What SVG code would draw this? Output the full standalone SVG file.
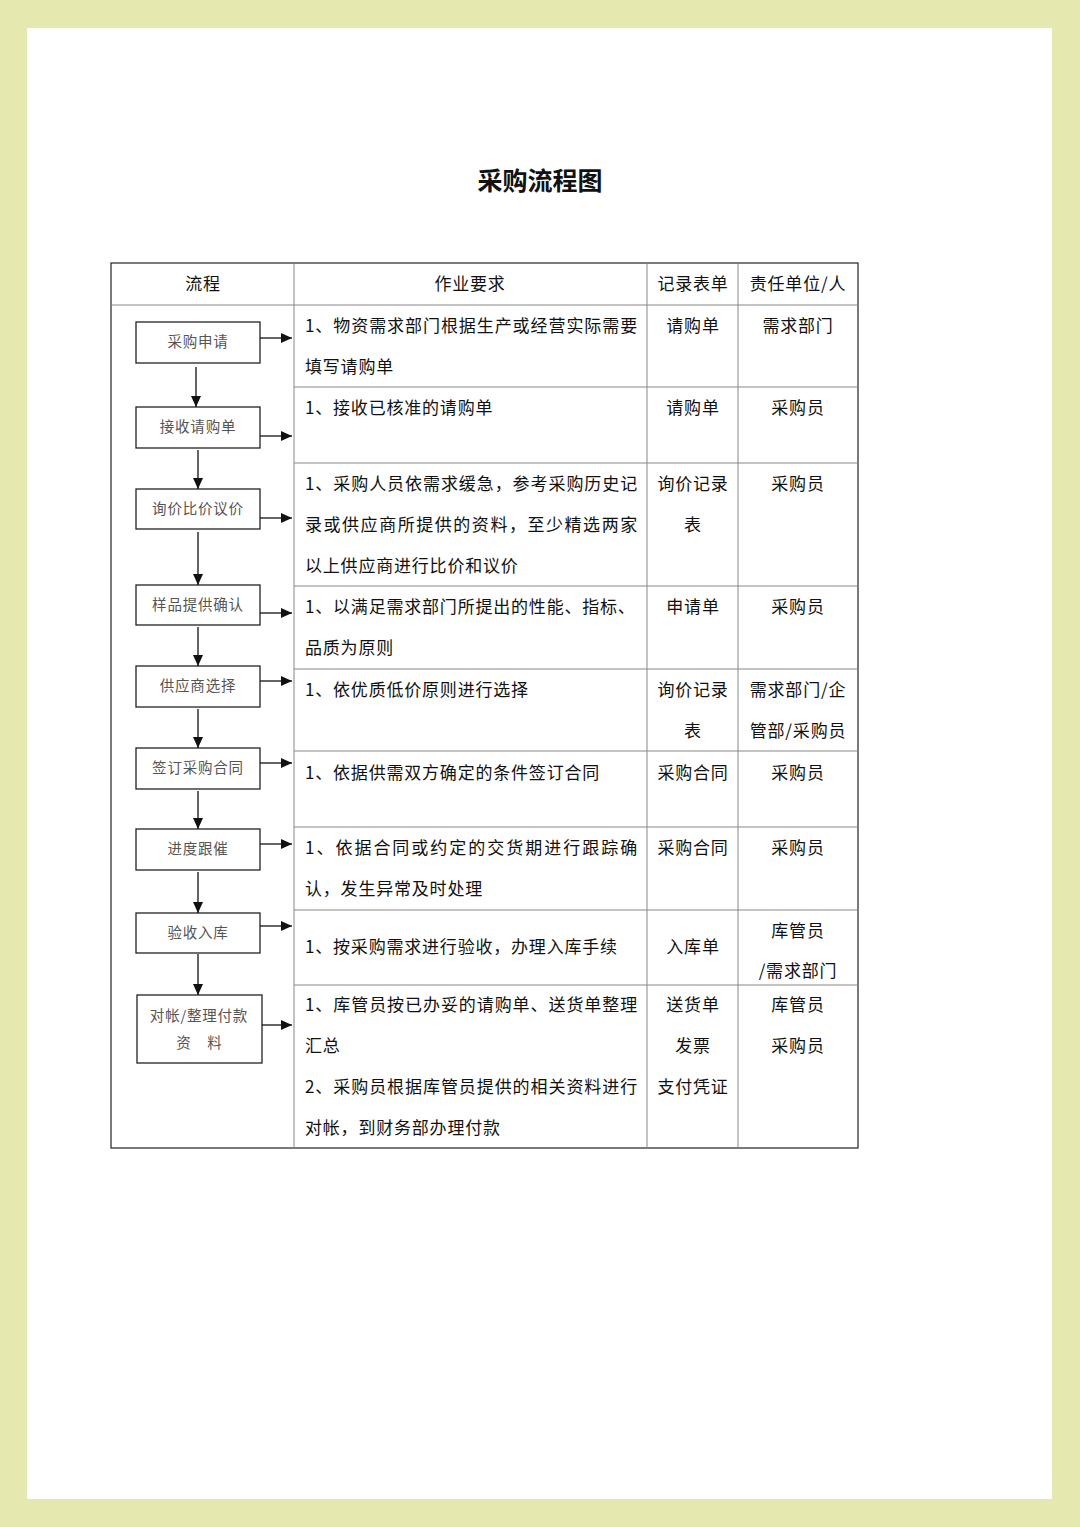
<svg xmlns="http://www.w3.org/2000/svg" width="1080" height="1527" viewBox="0 0 1080 1527">
<defs>
<marker id="ah" markerUnits="userSpaceOnUse" markerWidth="12" markerHeight="10" refX="11" refY="5" orient="auto">
<path d="M0,0 L11,5 L0,10 Z" fill="#111"/>
</marker>
<style>
.t{font-family:"Noto Sans CJK SC","Noto Sans",sans-serif;font-size:17px;fill:#111;letter-spacing:0.8px}
.c{text-anchor:middle}
.bx{fill:#fff;stroke:#222;stroke-width:1.3}
.bt{font-family:"Noto Sans CJK SC","Noto Sans",sans-serif;font-size:14.5px;fill:#555;text-anchor:middle;letter-spacing:0.8px}
.ln{stroke:#888;stroke-width:1;fill:none}
.ol{stroke:#222;stroke-width:1.2;fill:none}
.ar{stroke:#111;stroke-width:1.3;fill:none;marker-end:url(#ah)}
</style>
</defs>
<rect width="1080" height="1527" fill="#e5e9b0"/>
<rect x="27" y="28" width="1025" height="1471" fill="#fff"/>
<text x="540" y="190" font-family="'Noto Sans CJK SC',sans-serif" font-size="25" font-weight="bold" text-anchor="middle" fill="#111">采购流程图</text>

<g id="table">
<rect class="ol" x="111" y="263" width="747" height="885"/>
<line class="ln" x1="111" y1="305" x2="858" y2="305"/>
<line class="ln" x1="294" y1="263" x2="294" y2="1148"/>
<line class="ln" x1="647" y1="263" x2="647" y2="1148"/>
<line class="ln" x1="738" y1="263" x2="738" y2="1148"/>
<line class="ln" x1="294" y1="387" x2="858" y2="387"/>
<line class="ln" x1="294" y1="463" x2="858" y2="463"/>
<line class="ln" x1="294" y1="586" x2="858" y2="586"/>
<line class="ln" x1="294" y1="669" x2="858" y2="669"/>
<line class="ln" x1="294" y1="751" x2="858" y2="751"/>
<line class="ln" x1="294" y1="827" x2="858" y2="827"/>
<line class="ln" x1="294" y1="910" x2="858" y2="910"/>
<line class="ln" x1="294" y1="985" x2="858" y2="985"/>
</g>

<g id="header">
<text class="t c" x="203" y="290">流程</text>
<text class="t c" x="470" y="290">作业要求</text>
<text class="t c" x="693" y="290">记录表单</text>
<text class="t c" x="798" y="290">责任单位/人</text>
</g>

<g id="row1">
<text class="t" x="305" y="332" textLength="333" lengthAdjust="spacing">1、物资需求部门根据生产或经营实际需要</text>
<text class="t" x="305" y="373">填写请购单</text>
<text class="t c" x="693" y="332">请购单</text>
<text class="t c" x="798" y="332">需求部门</text>
</g>
<g id="row2">
<text class="t" x="305" y="414">1、接收已核准的请购单</text>
<text class="t c" x="693" y="414">请购单</text>
<text class="t c" x="798" y="414">采购员</text>
</g>
<g id="row3">
<text class="t" x="305" y="490" textLength="333" lengthAdjust="spacing">1、采购人员依需求缓急，参考采购历史记</text>
<text class="t" x="305" y="531" textLength="333" lengthAdjust="spacing">录或供应商所提供的资料，至少精选两家</text>
<text class="t" x="305" y="572">以上供应商进行比价和议价</text>
<text class="t c" x="693" y="490">询价记录</text>
<text class="t c" x="693" y="531">表</text>
<text class="t c" x="798" y="490">采购员</text>
</g>
<g id="row4">
<text class="t" x="305" y="613">1、以满足需求部门所提出的性能、指标、</text>
<text class="t" x="305" y="654">品质为原则</text>
<text class="t c" x="693" y="613">申请单</text>
<text class="t c" x="798" y="613">采购员</text>
</g>
<g id="row5">
<text class="t" x="305" y="696">1、依优质低价原则进行选择</text>
<text class="t c" x="693" y="696">询价记录</text>
<text class="t c" x="693" y="737">表</text>
<text class="t c" x="798" y="696">需求部门/企</text>
<text class="t c" x="798" y="737">管部/采购员</text>
</g>
<g id="row6">
<text class="t" x="305" y="779">1、依据供需双方确定的条件签订合同</text>
<text class="t c" x="693" y="779">采购合同</text>
<text class="t c" x="798" y="779">采购员</text>
</g>
<g id="row7">
<text class="t" x="305" y="854" textLength="333" lengthAdjust="spacing">1、依据合同或约定的交货期进行跟踪确</text>
<text class="t" x="305" y="895">认，发生异常及时处理</text>
<text class="t c" x="693" y="854">采购合同</text>
<text class="t c" x="798" y="854">采购员</text>
</g>
<g id="row8">
<text class="t" x="305" y="953">1、按采购需求进行验收，办理入库手续</text>
<text class="t c" x="693" y="953">入库单</text>
<text class="t c" x="798" y="937">库管员</text>
<text class="t c" x="798" y="977">/需求部门</text>
</g>
<g id="row9">
<text class="t" x="305" y="1011" textLength="333" lengthAdjust="spacing">1、库管员按已办妥的请购单、送货单整理</text>
<text class="t" x="305" y="1052">汇总</text>
<text class="t" x="305" y="1093" textLength="333" lengthAdjust="spacing">2、采购员根据库管员提供的相关资料进行</text>
<text class="t" x="305" y="1134">对帐，到财务部办理付款</text>
<text class="t c" x="693" y="1011">送货单</text>
<text class="t c" x="693" y="1052">发票</text>
<text class="t c" x="693" y="1093">支付凭证</text>
<text class="t c" x="798" y="1011">库管员</text>
<text class="t c" x="798" y="1052">采购员</text>
</g>

<g id="n1"><rect class="bx" x="136" y="322" width="124" height="41"/><text class="bt" x="198" y="347">采购申请</text></g>
<g id="n2"><rect class="bx" x="136" y="407" width="124" height="41"/><text class="bt" x="198" y="432">接收请购单</text></g>
<g id="n3"><rect class="bx" x="136" y="489" width="124" height="40"/><text class="bt" x="198" y="514">询价比价议价</text></g>
<g id="n4"><rect class="bx" x="136" y="585" width="124" height="40"/><text class="bt" x="198" y="610">样品提供确认</text></g>
<g id="n5"><rect class="bx" x="136" y="666" width="124" height="41"/><text class="bt" x="198" y="691">供应商选择</text></g>
<g id="n6"><rect class="bx" x="136" y="748" width="124" height="41"/><text class="bt" x="198" y="773">签订采购合同</text></g>
<g id="n7"><rect class="bx" x="136" y="829" width="124" height="41"/><text class="bt" x="198" y="854">进度跟催</text></g>
<g id="n8"><rect class="bx" x="136" y="913" width="124" height="40"/><text class="bt" x="198" y="938">验收入库</text></g>
<g id="n9"><rect class="bx" x="137" y="995" width="125" height="68"/><text class="bt" x="199" y="1021">对帐/整理付款</text><text class="bt" x="184" y="1048">资</text><text class="bt" x="215" y="1048">料</text></g>

<g id="connectors">
<line class="ar" x1="196" y1="367" x2="196" y2="407"/>
<line class="ar" x1="198" y1="450" x2="198" y2="489"/>
<line class="ar" x1="198" y1="532" x2="198" y2="585"/>
<line class="ar" x1="198" y1="627" x2="198" y2="666"/>
<line class="ar" x1="198" y1="709" x2="198" y2="748"/>
<line class="ar" x1="198" y1="791" x2="198" y2="829"/>
<line class="ar" x1="198" y1="872" x2="198" y2="913"/>
<line class="ar" x1="198" y1="954" x2="198" y2="995"/>
<line class="ar" x1="260" y1="338" x2="292" y2="338"/>
<line class="ar" x1="260" y1="436" x2="292" y2="436"/>
<line class="ar" x1="260" y1="518" x2="292" y2="518"/>
<line class="ar" x1="260" y1="613" x2="292" y2="613"/>
<line class="ar" x1="260" y1="681" x2="292" y2="681"/>
<line class="ar" x1="260" y1="763" x2="292" y2="763"/>
<line class="ar" x1="260" y1="844" x2="292" y2="844"/>
<line class="ar" x1="260" y1="926" x2="292" y2="926"/>
<line class="ar" x1="262" y1="1025" x2="292" y2="1025"/>
</g>
</svg>
